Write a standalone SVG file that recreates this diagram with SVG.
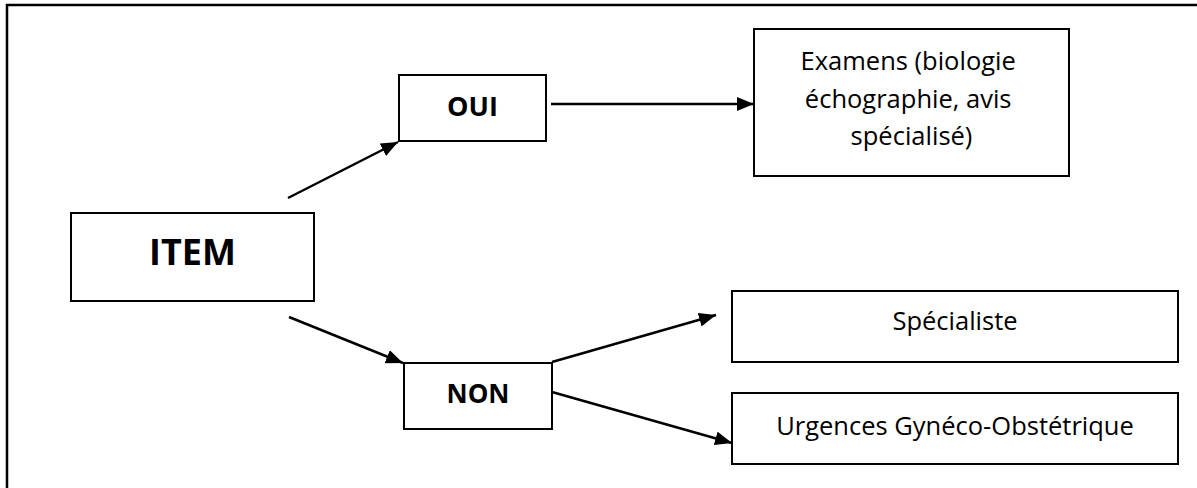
<svg xmlns="http://www.w3.org/2000/svg" width="1197" height="488" viewBox="0 0 1197 488">
<style>
  .box { fill: #ffffff; stroke: #000000; stroke-width: 2; }
  .lbl { font-family: "Open Sans", "Liberation Sans", sans-serif; fill: #000000; text-anchor: middle; }
  .bold { font-weight: bold; }
  .conn { stroke: #000000; stroke-width: 2.5; fill: none; marker-end: url(#arrow); }
</style>
<defs>
  <marker id="arrow" markerUnits="userSpaceOnUse" markerWidth="18" markerHeight="14" refX="17" refY="7" orient="auto">
    <path d="M0,0 L17,7 L0,14 z" fill="#000000"/>
  </marker>
</defs>
<rect x="7" y="5" width="1200" height="500" fill="none" stroke="#000000" stroke-width="2.5"/>
<g id="connectors">
  <line class="conn" x1="288" y1="198" x2="398" y2="142"/>
  <line class="conn" x1="551" y1="104" x2="754" y2="104"/>
  <line class="conn" x1="289" y1="317" x2="403" y2="363"/>
  <line class="conn" x1="552" y1="362" x2="716" y2="315"/>
  <line class="conn" x1="552" y1="392" x2="732" y2="443"/>
</g>
<g id="item">
  <rect class="box" x="71" y="213" width="243" height="88"/>
  <text class="lbl bold" x="192.5" y="265" font-size="36">ITEM</text>
</g>
<g id="oui">
  <rect class="box" x="399" y="75" width="147" height="66"/>
  <text class="lbl bold" x="472.5" y="116" font-size="27">OUI</text>
</g>
<g id="non">
  <rect class="box" x="404" y="363" width="148" height="66"/>
  <text class="lbl bold" x="478" y="403" font-size="26">NON</text>
</g>
<g id="examens">
  <rect class="box" x="754" y="29" width="315" height="147"/>
  <text class="lbl" x="911.5" font-size="25.5">
    <tspan x="911.5" y="70">Examens (biologie</tspan>
    <tspan x="911.5" y="108">échographie, avis</tspan>
    <tspan x="911.5" y="145">spécialisé)</tspan>
  </text>
</g>
<g id="specialiste">
  <rect class="box" x="732" y="291" width="446" height="71"/>
  <text class="lbl" x="955" y="330" font-size="25.5">Spécialiste</text>
</g>
<g id="urgences">
  <rect class="box" x="732" y="393" width="446" height="71"/>
  <text class="lbl" x="955" y="435" font-size="25.5">Urgences Gynéco-Obstétrique</text>
</g>
</svg>
